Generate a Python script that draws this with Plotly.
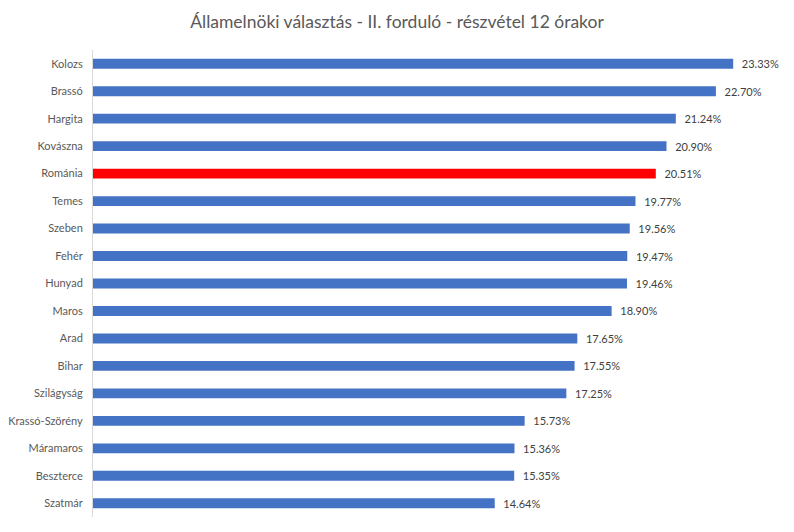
import plotly.graph_objects as go

categories = ["Kolozs", "Brassó", "Hargita", "Kovászna", "Románia", "Temes", "Szeben",
              "Fehér", "Hunyad", "Maros", "Arad", "Bihar", "Szilágyság", "Krassó-Szörény",
              "Máramaros", "Beszterce", "Szatmár"]
values = [23.33, 22.70, 21.24, 20.90, 20.51, 19.77, 19.56, 19.47, 19.46, 18.90,
          17.65, 17.55, 17.25, 15.73, 15.36, 15.35, 14.64]
highlight = "Románia"

colors = ["#FF0000" if c == highlight else "#4472C4" for c in categories]
labels = [f"  {v:.2f}%" for v in values]

fig = go.Figure(go.Bar(
    x=values, y=categories, orientation="h",
    marker=dict(color=colors, line=dict(width=0)),
    text=labels, textposition="outside", cliponaxis=False, constraintext="none",
    textfont=dict(family="Lato", size=11, color="#404040"),
    width=0.36,
))

fig.update_layout(
    width=794, height=532,
    margin=dict(l=93, r=15, t=50, b=15),
    paper_bgcolor="white", plot_bgcolor="white",
    title=dict(text="Államelnöki választás - II. forduló - részvétel 12 órakor",
               x=0.5, xanchor="center", xref="container", yref="container", y=0.958, yanchor="middle",
               font=dict(family="Lato", size=17.5, color="#595959")),
    showlegend=False,
    xaxis=dict(range=[0, 25], showgrid=False, zeroline=False, showticklabels=False,
               showline=False, fixedrange=True, automargin=False),
    yaxis=dict(autorange="reversed", showline=True, linecolor="#D9D9D9", linewidth=1,
               ticks="", ticklabelstandoff=7, automargin=False,
               tickfont=dict(family="Lato", size=11, color="#595959")),
)

fig.write_html("out.html", config={"displayModeBar": False},
               post_script="document.body.style.margin='0';")
